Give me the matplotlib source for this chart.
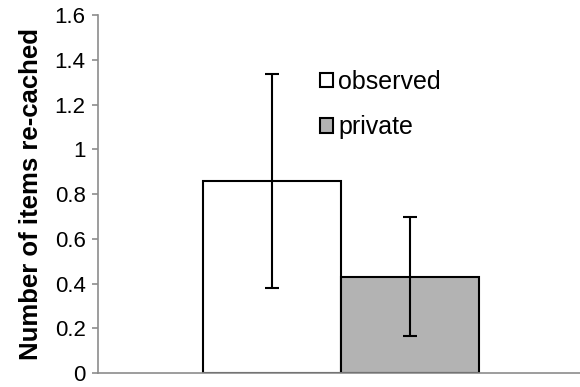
import matplotlib
matplotlib.use("Agg")
import matplotlib.pyplot as plt

plt.rcParams['font.family'] = ['Liberation Sans', 'DejaVu Sans']

groups = ['observed', 'private']
means = [0.86, 0.43]
lower = [0.38, 0.164]
upper = [1.337, 0.696]
colors = ['white', '#b3b3b3']
yticks = [0, 0.2, 0.4, 0.6, 0.8, 1, 1.2, 1.4, 1.6]
yticklabels = ['0', '0.2', '0.4', '0.6', '0.8', '1', '1.2', '1.4', '1.6']

fig = plt.figure(figsize=(5.8, 3.87), dpi=100)
ax = fig.add_axes([0.169, 0.036, 0.831, 0.925])

w = 0.573
xs = [-w / 2, w / 2]
handles = []
for x, m, lo, hi, c, g in zip(xs, means, lower, upper, colors, groups):
    b = ax.bar(x, m, width=w, color=c, edgecolor='black', linewidth=1.5, label=g, zorder=2)
    ax.errorbar(x, m, yerr=[[m - lo], [hi - m]], fmt='none', ecolor='black',
                elinewidth=1.5, capsize=5, capthick=1.5, zorder=3)
    handles.append(b)

ax.set_xlim(-1.008, 0.992)
ax.set_ylim(0, 1.6)
ax.set_yticks(yticks)
ax.set_yticklabels(yticklabels, fontsize=16)
ax.set_xticks([])
ax.set_ylabel('Number of items re-cached', fontsize=18.5, fontweight='bold', labelpad=8)

for s in ['top', 'right']:
    ax.spines[s].set_visible(False)
for s in ['left', 'bottom']:
    ax.spines[s].set_color('#8c8c8c')
    ax.spines[s].set_linewidth(1.2)
ax.tick_params(axis='y', color='#8c8c8c', length=4, width=1.2, pad=5)

ax.legend(handles=handles, loc='upper left', bbox_to_anchor=(0.44, 0.875), frameon=False,
          fontsize=18, handlelength=0.52, handleheight=0.52, handletextpad=0.2,
          labelspacing=0.85, borderaxespad=0)

fig.savefig('out.png', dpi=100)
